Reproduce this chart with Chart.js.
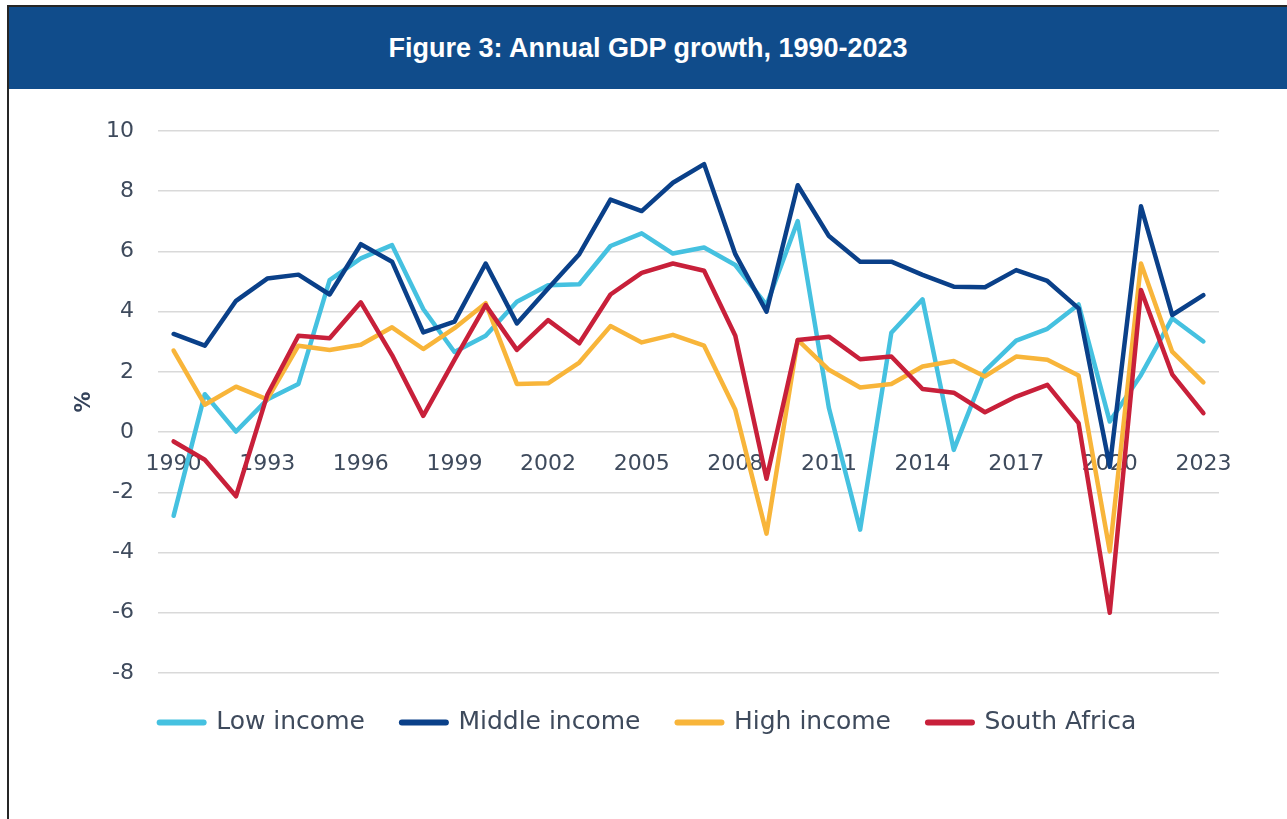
<!DOCTYPE html>
<html>
<head>
<meta charset="utf-8">
<script src="https://cdn.jsdelivr.net/npm/chart.js@4.4.1/dist/chart.umd.min.js"></script>
<style>
  html, body { margin: 0; padding: 0; background: #ffffff; }
  body { width: 1287px; height: 819px; position: relative; overflow: hidden; }
  #frame { position: absolute; left: 7px; top: 5px; width: 1280px; height: 814px;
           border-top: 2px solid #262626; border-left: 2px solid #262626; box-sizing: border-box; }
  #banner { position: absolute; left: 9px; top: 7px; width: 1278px; height: 82px; background: #104c8b;
            display: flex; align-items: center; justify-content: center; }
  #banner span { color: #ffffff; font-family: "Liberation Sans", Arial, sans-serif; font-weight: bold;
                 font-size: 27px; }
  #wrap { position: absolute; left: 9px; top: 89px; width: 1278px; height: 730px; }
</style>
</head>
<body>
<div id="frame"></div>
<div id="banner"><span>Figure 3: Annual GDP growth, 1990-2023</span></div>
<div id="wrap"><canvas id="c"></canvas></div>
<script>
const years = ["1990","1991","1992","1993","1994","1995","1996","1997","1998","1999",
               "2000","2001","2002","2003","2004","2005","2006","2007","2008","2009",
               "2010","2011","2012","2013","2014","2015","2016","2017","2018","2019",
               "2020","2021","2022","2023"];
const lowIncome = [-2.78, 1.26, 0.02, 1.08, 1.60, 5.05, 5.77, 6.21, 4.09, 2.66,
                   3.20, 4.33, 4.88, 4.91, 6.18, 6.60, 5.93, 6.13, 5.55, 4.22,
                   7.01, 0.80, -3.24, 3.30, 4.41, -0.59, 2.03, 3.04, 3.43, 4.24,
                   0.35, 1.90, 3.78, 3.01];
const middleIncome = [3.26, 2.87, 4.36, 5.10, 5.23, 4.57, 6.24, 5.66, 3.31, 3.67,
                      5.60, 3.61, 4.77, 5.91, 7.72, 7.34, 8.28, 8.90, 5.91, 4.00,
                      8.20, 6.51, 5.66, 5.66, 5.22, 4.83, 4.81, 5.38, 5.02, 4.11,
                      -1.15, 7.50, 3.89, 4.55];
const highIncome = [2.71, 0.91, 1.51, 1.09, 2.87, 2.73, 2.90, 3.48, 2.76, 3.45,
                    4.28, 1.60, 1.62, 2.31, 3.52, 2.98, 3.23, 2.87, 0.74, -3.37,
                    3.06, 2.07, 1.48, 1.60, 2.18, 2.36, 1.85, 2.51, 2.40, 1.88,
                    -3.96, 5.60, 2.67, 1.65];
const southAfrica = [-0.31, -0.92, -2.13, 1.23, 3.20, 3.12, 4.31, 2.56, 0.54, 2.40,
                     4.22, 2.73, 3.72, 2.95, 4.57, 5.29, 5.60, 5.36, 3.20, -1.55,
                     3.06, 3.17, 2.42, 2.51, 1.43, 1.31, 0.66, 1.18, 1.57, 0.30,
                     -6.00, 4.72, 1.92, 0.63];
const seriesNames = ["Low income", "Middle income", "High income", "South Africa"];
const seriesColors = ["#45c1e0", "#0a4089", "#f8b53a", "#c8203a"];
const yTickMin = -8, yTickMax = 10, yTickStep = 2;
const xLabelEvery = 3;

Chart.defaults.font.family = "'DejaVu Sans', sans-serif";
Chart.defaults.color = "#3e4a5c";

const seriesData = [lowIncome, middleIncome, highIncome, southAfrica];
const datasets = seriesData.map((d, i) => ({
  label: seriesNames[i],
  data: d,
  borderColor: seriesColors[i],
  backgroundColor: seriesColors[i],
  borderWidth: 4.5,
  pointRadius: 0,
  pointHoverRadius: 0,
  tension: 0,
  borderJoinStyle: 'round',
  borderCapStyle: 'round',
  fill: false,
  order: 4 - i
}));

new Chart(document.getElementById('c'), {
  type: 'line',
  data: { labels: years, datasets },
  options: {
    responsive: true,
    maintainAspectRatio: false,
    animation: false,
    layout: { padding: { top: 42, left: 0, right: 0, bottom: 74 } },
    scales: {
      x: {
        type: 'category',
        position: { y: 0 },
        offset: true,
        grid: { display: false, drawTicks: false },
        border: { display: false },
        ticks: {
          autoSkip: false, maxRotation: 0, minRotation: 0, padding: 19,
          font: { size: 22 }, color: "#3e4a5c",
          callback: function(value, index) { return index % xLabelEvery === 0 ? this.getLabelForValue(value) : ''; }
        }
      },
      y: {
        position: 'left',
        min: yTickMin, max: yTickMax,
        grid: { color: '#d9d9d9', lineWidth: 1.5, drawTicks: false },
        border: { display: false },
        ticks: { stepSize: yTickStep, padding: 24, font: { size: 22 }, color: "#3e4a5c" },
        title: { display: true, text: '%', font: { size: 21, weight: 'bold' }, color: '#34425a', padding: { top: 63, bottom: 0 } },
        afterFit(s) { s.width = 149; }
      },
      yRight: {
        position: 'right',
        display: true,
        grid: { display: false, drawTicks: false },
        border: { display: false },
        ticks: { display: false },
        afterFit(s) { s.width = 68; }
      }
    },
    plugins: {
      tooltip: { enabled: false },
      legend: {
        position: 'bottom',
        labels: {
          usePointStyle: true,
          pointStyleWidth: 44,
          boxHeight: 6,
          padding: 37,
          font: { size: 25 },
          color: "#3e4a5c",
          sort: (a, b) => a.datasetIndex - b.datasetIndex,
          generateLabels(chart) {
            const items = Chart.defaults.plugins.legend.labels.generateLabels(chart);
            items.forEach(it => { it.pointStyle = 'line'; it.lineWidth = 6; it.lineCap = 'round'; });
            return items;
          }
        }
      }
    }
  }
});
</script>
</body>
</html>
